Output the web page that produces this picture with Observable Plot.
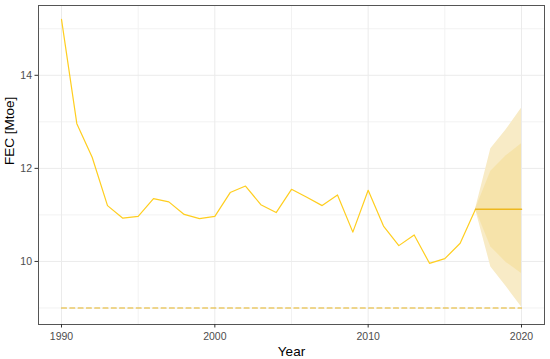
<!DOCTYPE html>
<html>
<head>
<meta charset="utf-8">
<script src="https://cdn.jsdelivr.net/npm/d3@7"></script>
<script src="https://cdn.jsdelivr.net/npm/@observablehq/plot@0.6"></script>
<style>
  html, body { margin: 0; padding: 0; background: #fff; }
  #chart svg { display: block; font-family: "Liberation Sans", Arial, sans-serif; }
</style>
</head>
<body>
<div id="chart"></div>
<script>
// Historical final energy consumption (Mtoe)
const years = [1990,1991,1992,1993,1994,1995,1996,1997,1998,1999,2000,2001,2002,2003,2004,2005,2006,2007,2008,2009,2010,2011,2012,2013,2014,2015,2016,2017];
const fec = [15.2,12.96,12.24,11.2,10.93,10.97,11.35,11.28,11.01,10.92,10.97,11.48,11.62,11.22,11.05,11.55,11.38,11.2,11.43,10.63,11.53,10.76,10.34,10.57,9.96,10.06,10.39,11.12];

// Forecast (mean and prediction intervals)
const fcYears = [2017,2018,2019,2020];
const fcMean  = [11.12,11.12,11.12,11.12];
const fcLo80  = [11.12,10.31,9.98,9.74];
const fcHi80  = [11.12,11.94,12.27,12.53];
const fcLo95  = [11.12,9.88,9.46,9.02];
const fcHi95  = [11.12,12.42,12.83,13.29];

// Target line
const targetYears = [1990,2020];
const targetValue = [9,9];

// Ticks
const xMajor = [1990,2000,2010,2020];
const xMinor = [1995,2005,2015];
const yMajor = [10,12,14];
const yMinor = [9,11,13,15];

const hist = years.map((y,i)=>({year:y, v:fec[i]}));
const fc = fcYears.map((y,i)=>({year:y, m:fcMean[i], lo80:fcLo80[i], hi80:fcHi80[i], lo95:fcLo95[i], hi95:fcHi95[i]}));
const target = targetYears.map((y,i)=>({year:y, v:targetValue[i]}));

const chart = Plot.plot({
  width: 550,
  height: 359,
  marginLeft: 38,
  marginRight: 6,
  marginTop: 5,
  marginBottom: 35,
  x: {domain: [1988.5, 2021.5]},
  y: {domain: [8.645, 15.5]},
  style: {fontFamily: "Liberation Sans, Arial, sans-serif", background: "#fff"},
  marks: [
    Plot.gridX(xMinor, {stroke: "#F2F2F2", strokeOpacity: 1, strokeWidth: 1}),
    Plot.gridY(yMinor, {stroke: "#F2F2F2", strokeOpacity: 1, strokeWidth: 1}),
    Plot.gridX(xMajor, {stroke: "#EBEBEB", strokeOpacity: 1, strokeWidth: 1}),
    Plot.gridY(yMajor, {stroke: "#EBEBEB", strokeOpacity: 1, strokeWidth: 1}),
    Plot.areaY(fc, {x: "year", y1: "lo95", y2: "hi95", fill: "#F8EBC6", fillOpacity: 1}),
    Plot.areaY(fc, {x: "year", y1: "lo80", y2: "hi80", fill: "#F6E3AA", fillOpacity: 1}),
    Plot.line(target, {x: "year", y: "v", stroke: "#E3B21E", strokeWidth: 1.1, strokeDasharray: "5,3.3"}),
    Plot.line(hist, {x: "year", y: "v", stroke: "#FFCE1F", strokeWidth: 1.2}),
    Plot.line(fc, {x: "year", y: "m", stroke: "#EDB81E", strokeWidth: 1.5}),
    Plot.frame({stroke: "#555555", strokeWidth: 1}),
    Plot.axisX({ticks: xMajor, tickFormat: d => String(d), tickSize: 3.5, tickPadding: 5, fontSize: 10.5, color: "#4D4D4D", stroke: "#333333", label: null}),
    Plot.axisY({ticks: yMajor, tickFormat: d => String(d), tickSize: 3.5, tickPadding: 3, fontSize: 10.5, color: "#4D4D4D", stroke: "#333333", label: null}),
    Plot.text(["Year"], {frameAnchor: "bottom", text: d => d, dy: 31, fontSize: 13.5, fill: "#000"}),
    Plot.text(["FEC [Mtoe]"], {frameAnchor: "left", text: d => d, rotate: -90, dx: -28.5, fontSize: 13.5, fill: "#000"})
  ]
});
document.getElementById("chart").appendChild(chart);
</script>
</body>
</html>
